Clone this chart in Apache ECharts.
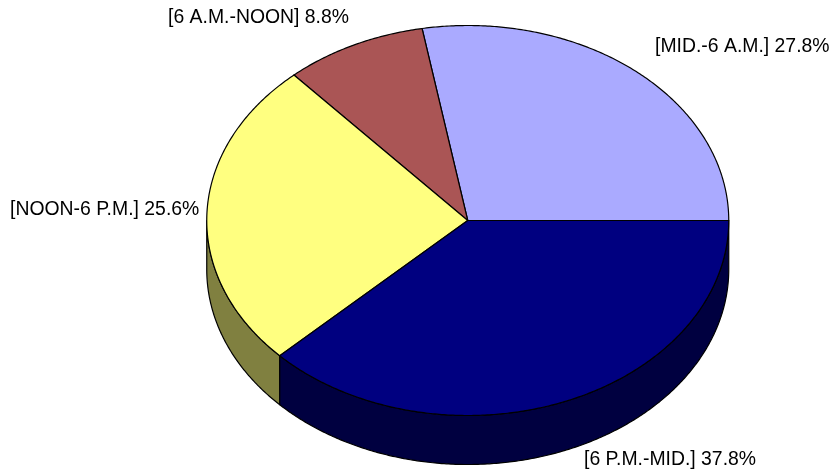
<!DOCTYPE html>
<html>
<head>
<meta charset="utf-8">
<style>html,body{margin:0;padding:0;background:#fff}#c{width:831px;height:472px}</style>
<script src="https://cdn.jsdelivr.net/npm/echarts@6/dist/echarts.min.js"></script>
</head>
<body>
<div id="c"></div>
<script>
const categories = ['[MID.-6 A.M.]', '[6 A.M.-NOON]', '[NOON-6 P.M.]', '[6 P.M.-MID.]'];
const shares = [27.8, 8.8, 25.6, 37.8];
const topColors = ['#AAAAFF', '#AA5555', '#FFFF80', '#000080'];
const sideColors = ['#555580', '#552B2B', '#808040', '#000040'];
const labelAnchors = [[655, 47], [168, 18], [10, 210], [584, 460]];

const cx = 467.75, cy = 220.5, rx = 261, ry = 195, depth = 49;
const total = shares.reduce((a, b) => a + b, 0);
const pt = (deg, dy) => [cx + rx * Math.cos(deg * Math.PI / 180), cy + dy - ry * Math.sin(deg * Math.PI / 180)];
const arc = (a, b, dy) => {
  const out = [];
  const n = Math.max(2, Math.ceil(Math.abs(b - a) * 2));
  for (let i = 0; i <= n; i++) out.push(pt(a + (b - a) * i / n, dy));
  return out;
};
const line = { stroke: '#000', lineWidth: 1.2, lineJoin: 'round' };

function renderItem(params, api) {
  const i = params.dataIndex;
  let before = 0;
  for (let k = 0; k < i; k++) before += shares[k];
  const a = before / total * 360;
  const b = (before + api.value(0)) / total * 360;
  const children = [];
  const sa = Math.max(a, 180), sb = Math.min(b, 360);
  if (sb > sa) {
    children.push({
      type: 'polygon',
      shape: { points: arc(sa, sb, 0).concat(arc(sb, sa, depth)) },
      style: Object.assign({ fill: sideColors[i] }, line)
    });
  }
  children.push({
    type: 'polygon',
    shape: { points: [[cx, cy]].concat(arc(a, b, 0)) },
    style: Object.assign({ fill: topColors[i] }, line)
  });
  children.push({
    type: 'text',
    x: labelAnchors[i][0],
    y: labelAnchors[i][1],
    style: {
      text: categories[i] + ' ' + api.value(0).toFixed(1) + '%',
      fill: '#000',
      font: '19.4px "Liberation Sans", Arial, sans-serif',
      textAlign: 'left',
      textVerticalAlign: 'middle'
    }
  });
  return { type: 'group', children };
}

const chart = echarts.init(document.getElementById('c'), null, { renderer: 'canvas' });
chart.setOption({
  animation: false,
  backgroundColor: '#fff',
  series: [{
    type: 'custom',
    coordinateSystem: 'none',
    renderItem,
    data: shares.map(v => [v]),
    silent: true
  }]
});
</script>
</body>
</html>
